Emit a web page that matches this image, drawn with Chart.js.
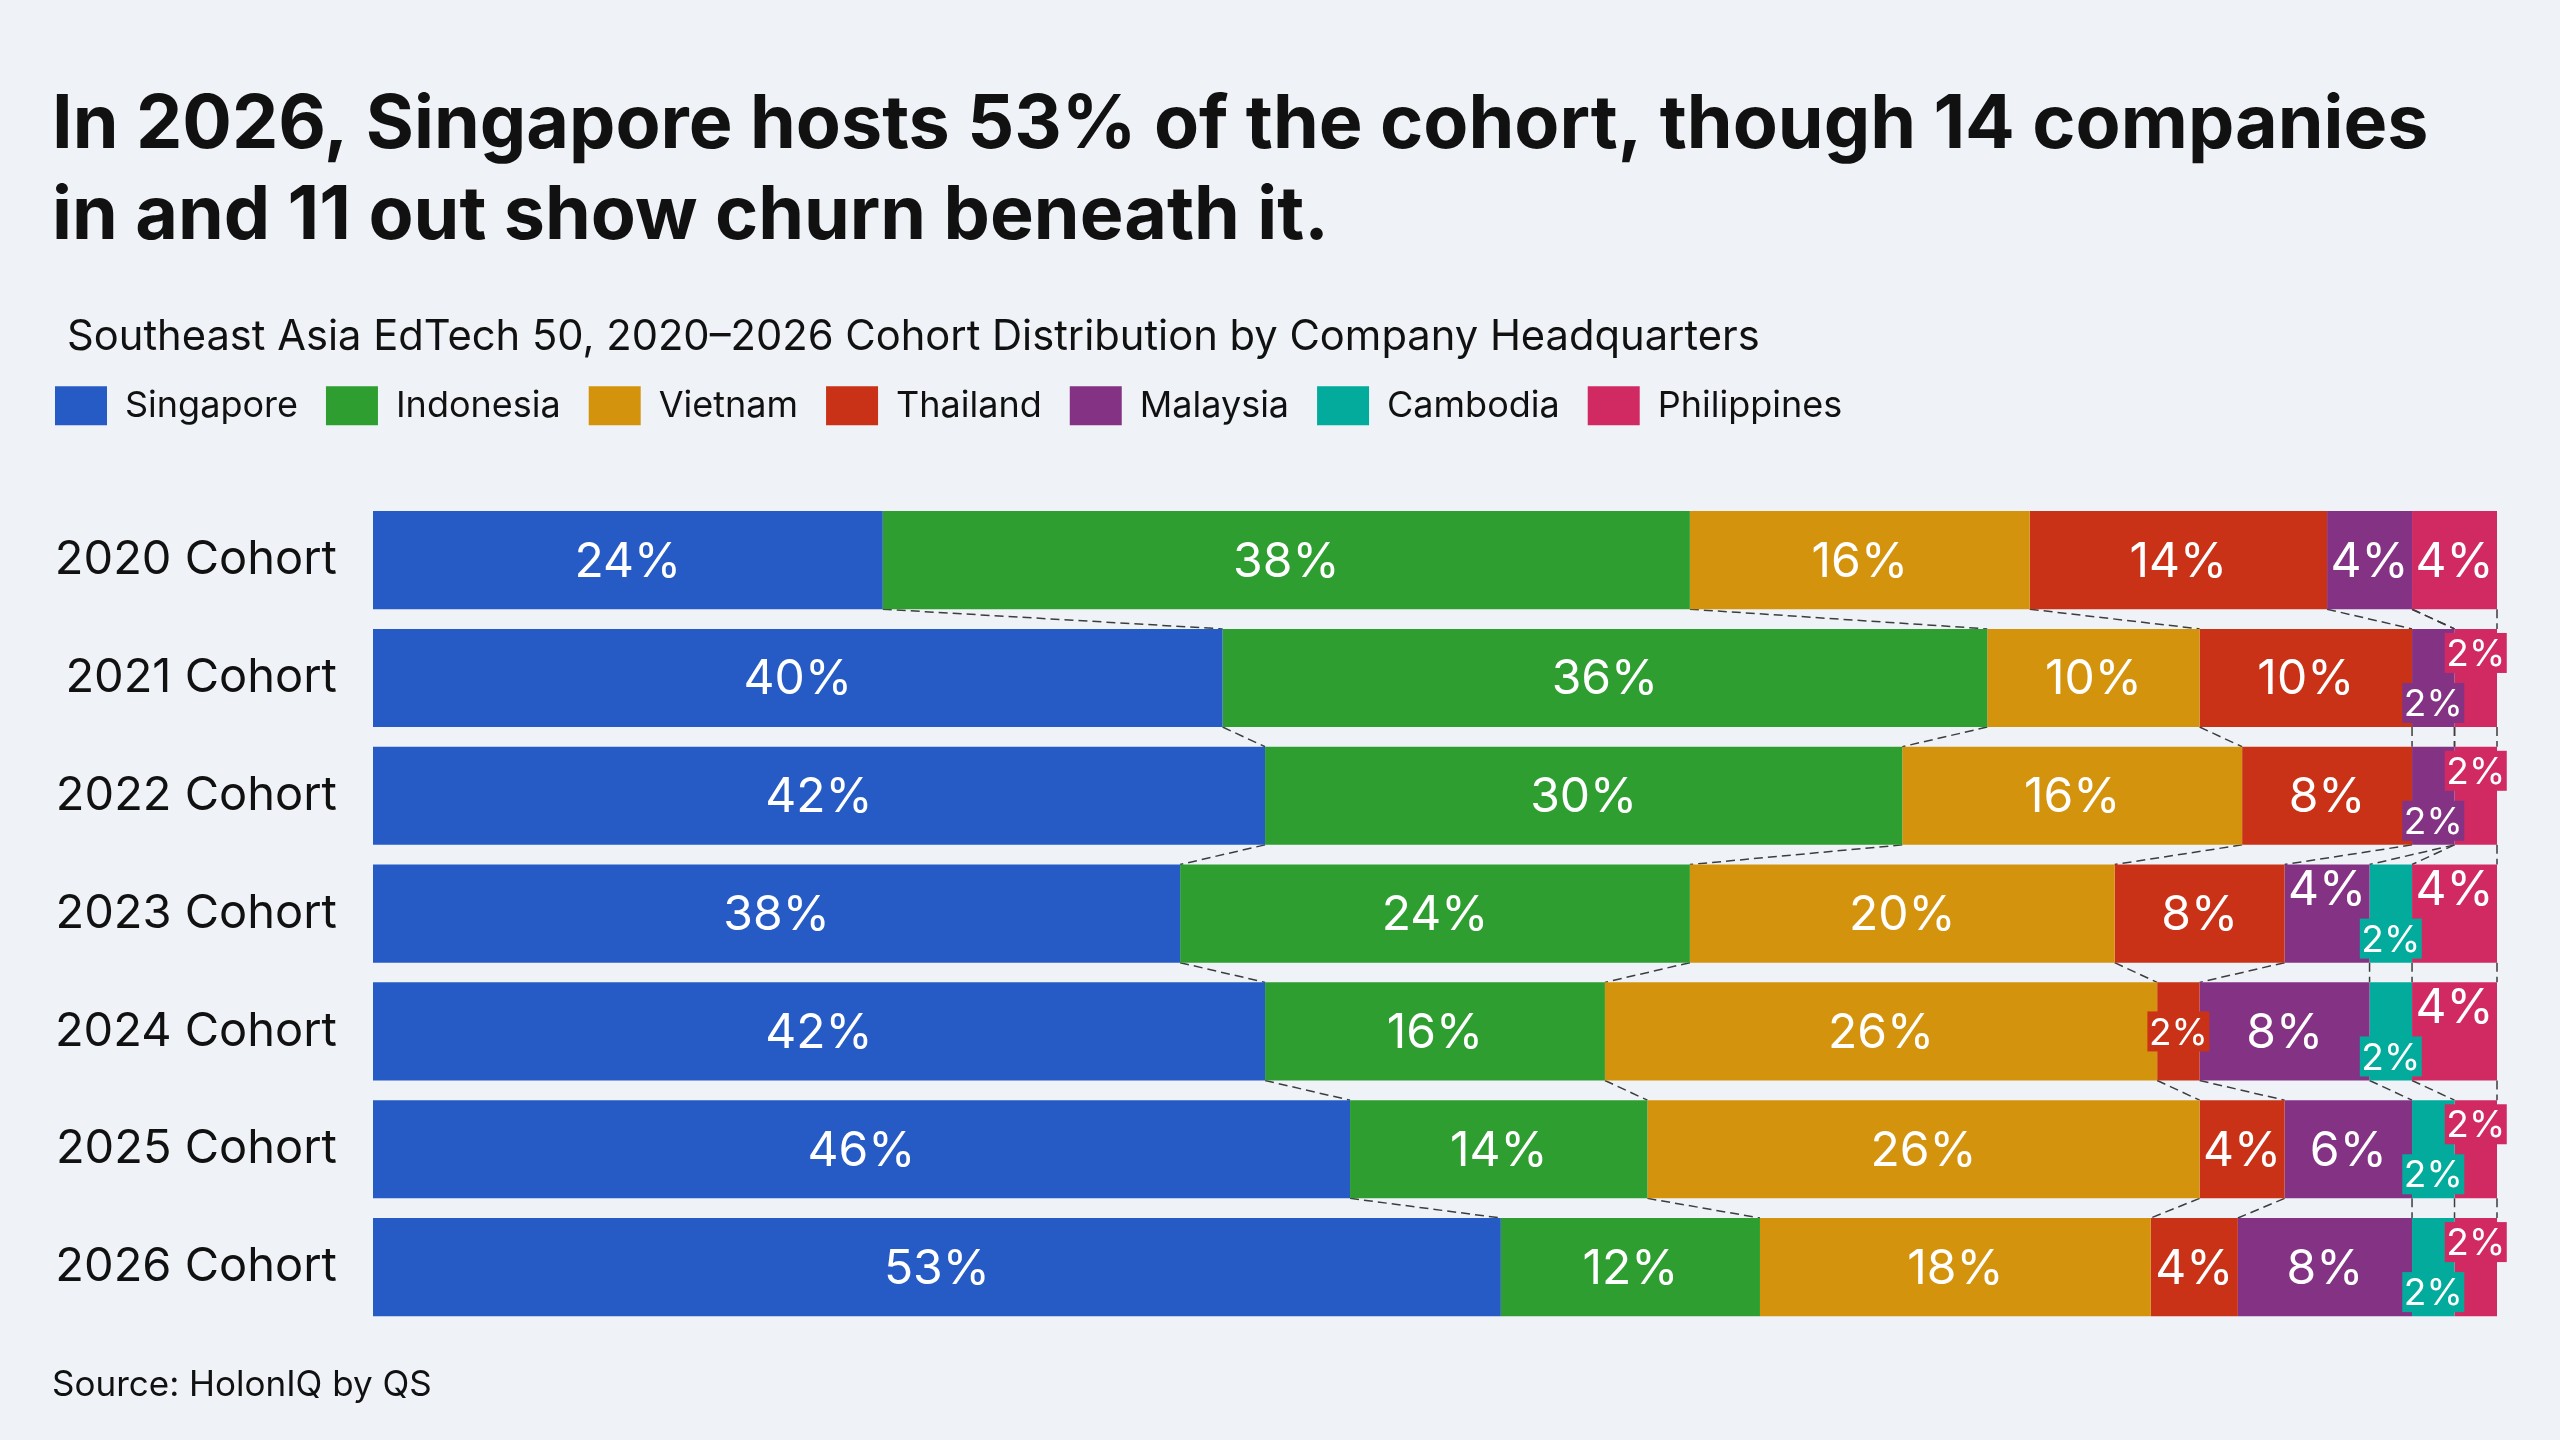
<!DOCTYPE html>
<html>
<head>
<meta charset="utf-8">
<title>Southeast Asia EdTech 50 cohorts</title>
<script src="https://cdn.jsdelivr.net/npm/chart.js@4.4.1/dist/chart.umd.min.js"></script>
<style>
  html, body { margin: 0; padding: 0; background: #eff3f8; }
  canvas { display: block; }
</style>
</head>
<body>
<canvas id="cohortChart" width="2560" height="1440"></canvas>
<script>
// cohort rows, share of companies by HQ country (%)
var cohorts = ['2020 Cohort', '2021 Cohort', '2022 Cohort', '2023 Cohort', '2024 Cohort', '2025 Cohort', '2026 Cohort'];
var singapore   = [24, 40, 42, 38, 42, 46, 53.1];
var indonesia   = [38, 36, 30, 24, 16, 14, 12.2];
var vietnam     = [16, 10, 16, 20, 26, 26, 18.4];
var thailand    = [14, 10, 8, 8, 2, 4, 4.1];
var malaysia    = [4, 2, 2, 4, 8, 6, 8.2];
var cambodia    = [0, 0, 0, 2, 2, 2, 2.0];
var philippines = [4, 2, 2, 4, 4, 2, 2.0];

var TITLE = ['In 2026, Singapore hosts 53% of the cohort, though 14 companies', 'in and 11 out show churn beneath it.'];
var SUBTITLE = 'Southeast Asia EdTech 50, 2020\u20132026 Cohort Distribution by Company Headquarters';
var SOURCE = 'Source: HolonIQ by QS';
var FONT = 'Inter';

//Dashed lines joining each segment edge to the same edge in the next row
var connectorPlugin = {
    id: 'connectors',
    beforeDatasetsDraw: function(chart)
    {
        var ctx = chart.ctx;
        var xScale = chart.scales.x;
        var sets = chart.data.datasets;
        var rows = chart.getDatasetMeta(0).data;

        ctx.save();
        ctx.strokeStyle = '#3d3d3d';
        ctx.lineWidth = 1.5;
        ctx.setLineDash([9, 5]);
        for (var i = 0; i < rows.length - 1; i++) {
            var yFrom = rows[i].y + rows[i].height / 2;
            var yTo = rows[i + 1].y - rows[i + 1].height / 2;
            var sumA = 0, sumB = 0;
            for (var k = 0; k < sets.length; k++) {
                sumA += sets[k].data[i];
                sumB += sets[k].data[i + 1];
                ctx.beginPath();
                ctx.moveTo(xScale.getPixelForValue(sumA), yFrom);
                ctx.lineTo(xScale.getPixelForValue(sumB), yTo);
                ctx.stroke();
            }
        }
        ctx.restore();
    }
};

//Percent labels inside the segments, narrow ones get staggered into tags
var labelPlugin = {
    id: 'segmentLabels',
    afterDatasetsDraw: function(chart)
    {
        var ctx = chart.ctx;
        var sets = chart.data.datasets;

        ctx.save();
        ctx.textAlign = 'center';
        ctx.textBaseline = 'middle';
        chart.data.labels.forEach(function(label, i) {
            var segs = [];
            sets.forEach(function(ds, k) {
                if (ds.data[i] > 0) {
                    segs.push({ k: k, v: ds.data[i], el: chart.getDatasetMeta(k).data[i], dy: 0 });
                }
            });

            var j = 0;
            while (j < segs.length) {
                if (segs[j].v > 4.5) { j++; continue; }
                var start = j;
                while (j < segs.length && segs[j].v <= 4.5) j++;
                var run = segs.slice(start, j);
                var tight = run.some(function(s) { return s.v <= 2.5; });
                if (run.length > 1 && tight) {
                    var up = true;
                    for (var r = run.length - 1; r >= 0; r--) {
                        run[r].dy = up ? -25 : 25;
                        up = !up;
                    }
                }
            }

            segs.forEach(function(s) {
                var cx = (s.el.x + s.el.base) / 2;
                var cy = s.el.y + s.dy;
                if (s.v <= 2.5) {
                    ctx.fillStyle = sets[s.k].backgroundColor;
                    ctx.fillRect(cx - 31, cy - 20, 62, 40);
                    ctx.font = '37px ' + FONT;
                } else {
                    ctx.font = '48px ' + FONT;
                }
                ctx.fillStyle = '#ffffff';
                ctx.fillText(Math.round(s.v) + '%', cx, cy + 2);
            });
        });
        ctx.restore();
    }
};

//Nudge legend / subtitle to the reference indents, and write the source line
var framePlugin = {
    id: 'frame',
    beforeDraw: function(chart)
    {
        chart.legend.left = 27;
        chart.boxes.forEach(function(box) {
            if (box.options && box.options.text === SUBTITLE && !box._shifted) {
                box.left += 15;
                box.right += 15;
                box._shifted = true;
            }
        });
    },
    afterDraw: function(chart)
    {
        var ctx = chart.ctx;
        ctx.save();
        ctx.font = '35px ' + FONT;
        ctx.fillStyle = '#111111';
        ctx.textAlign = 'left';
        ctx.textBaseline = 'alphabetic';
        ctx.fillText(SOURCE, 52, chart.chartArea.bottom + 70);
        ctx.restore();
    }
};

var datasets = [
    { label: 'Singapore',   data: singapore,   backgroundColor: '#265bc5' },
    { label: 'Indonesia',   data: indonesia,   backgroundColor: '#2e9e31' },
    { label: 'Vietnam',     data: vietnam,     backgroundColor: '#d4930d' },
    { label: 'Thailand',    data: thailand,    backgroundColor: '#c93217' },
    { label: 'Malaysia',    data: malaysia,    backgroundColor: '#843384' },
    { label: 'Cambodia',    data: cambodia,    backgroundColor: '#02ab9b' },
    { label: 'Philippines', data: philippines, backgroundColor: '#d12a62' }
];

new Chart(document.getElementById('cohortChart'), {
    type: 'bar',
    data: { labels: cohorts, datasets: datasets },
    plugins: [connectorPlugin, labelPlugin, framePlugin],
    options: {
        indexAxis: 'y',
        responsive: false,
        devicePixelRatio: 1,
        animation: false,
        layout: { padding: { left: 52, right: 63, top: 30, bottom: 114 } },
        datasets: {
            bar: { barPercentage: 0.833, categoryPercentage: 1, borderWidth: 0 }
        },
        scales: {
            x: {
                stacked: true,
                min: 0,
                max: 100,
                position: 'top',
                grid: { display: false },
                border: { display: false },
                ticks: { display: false },
                afterFit: function(scale) { scale.height = 66; }
            },
            y: {
                stacked: true,
                grid: { display: false },
                border: { display: false },
                ticks: { color: '#111111', padding: 28, font: { family: FONT, size: 47 } },
                afterFit: function(scale) { scale.width = 321; }
            }
        },
        plugins: {
            title: {
                display: true,
                align: 'start',
                text: TITLE,
                color: '#111111',
                font: { family: FONT, size: 73.6, weight: 'bold', lineHeight: 1.24 },
                padding: { top: 50, bottom: 0 }
            },
            subtitle: {
                display: true,
                align: 'start',
                text: SUBTITLE,
                color: '#111111',
                font: { family: FONT, size: 41.7, weight: 'normal', lineHeight: 1.0 },
                padding: { top: 54, bottom: 0 }
            },
            legend: {
                display: true,
                position: 'top',
                align: 'start',
                labels: {
                    boxWidth: 52,
                    boxHeight: 39,
                    padding: 28,
                    color: '#111111',
                    font: { family: FONT, size: 36 }
                }
            },
            tooltip: { enabled: false }
        }
    }
});
</script>
</body>
</html>
